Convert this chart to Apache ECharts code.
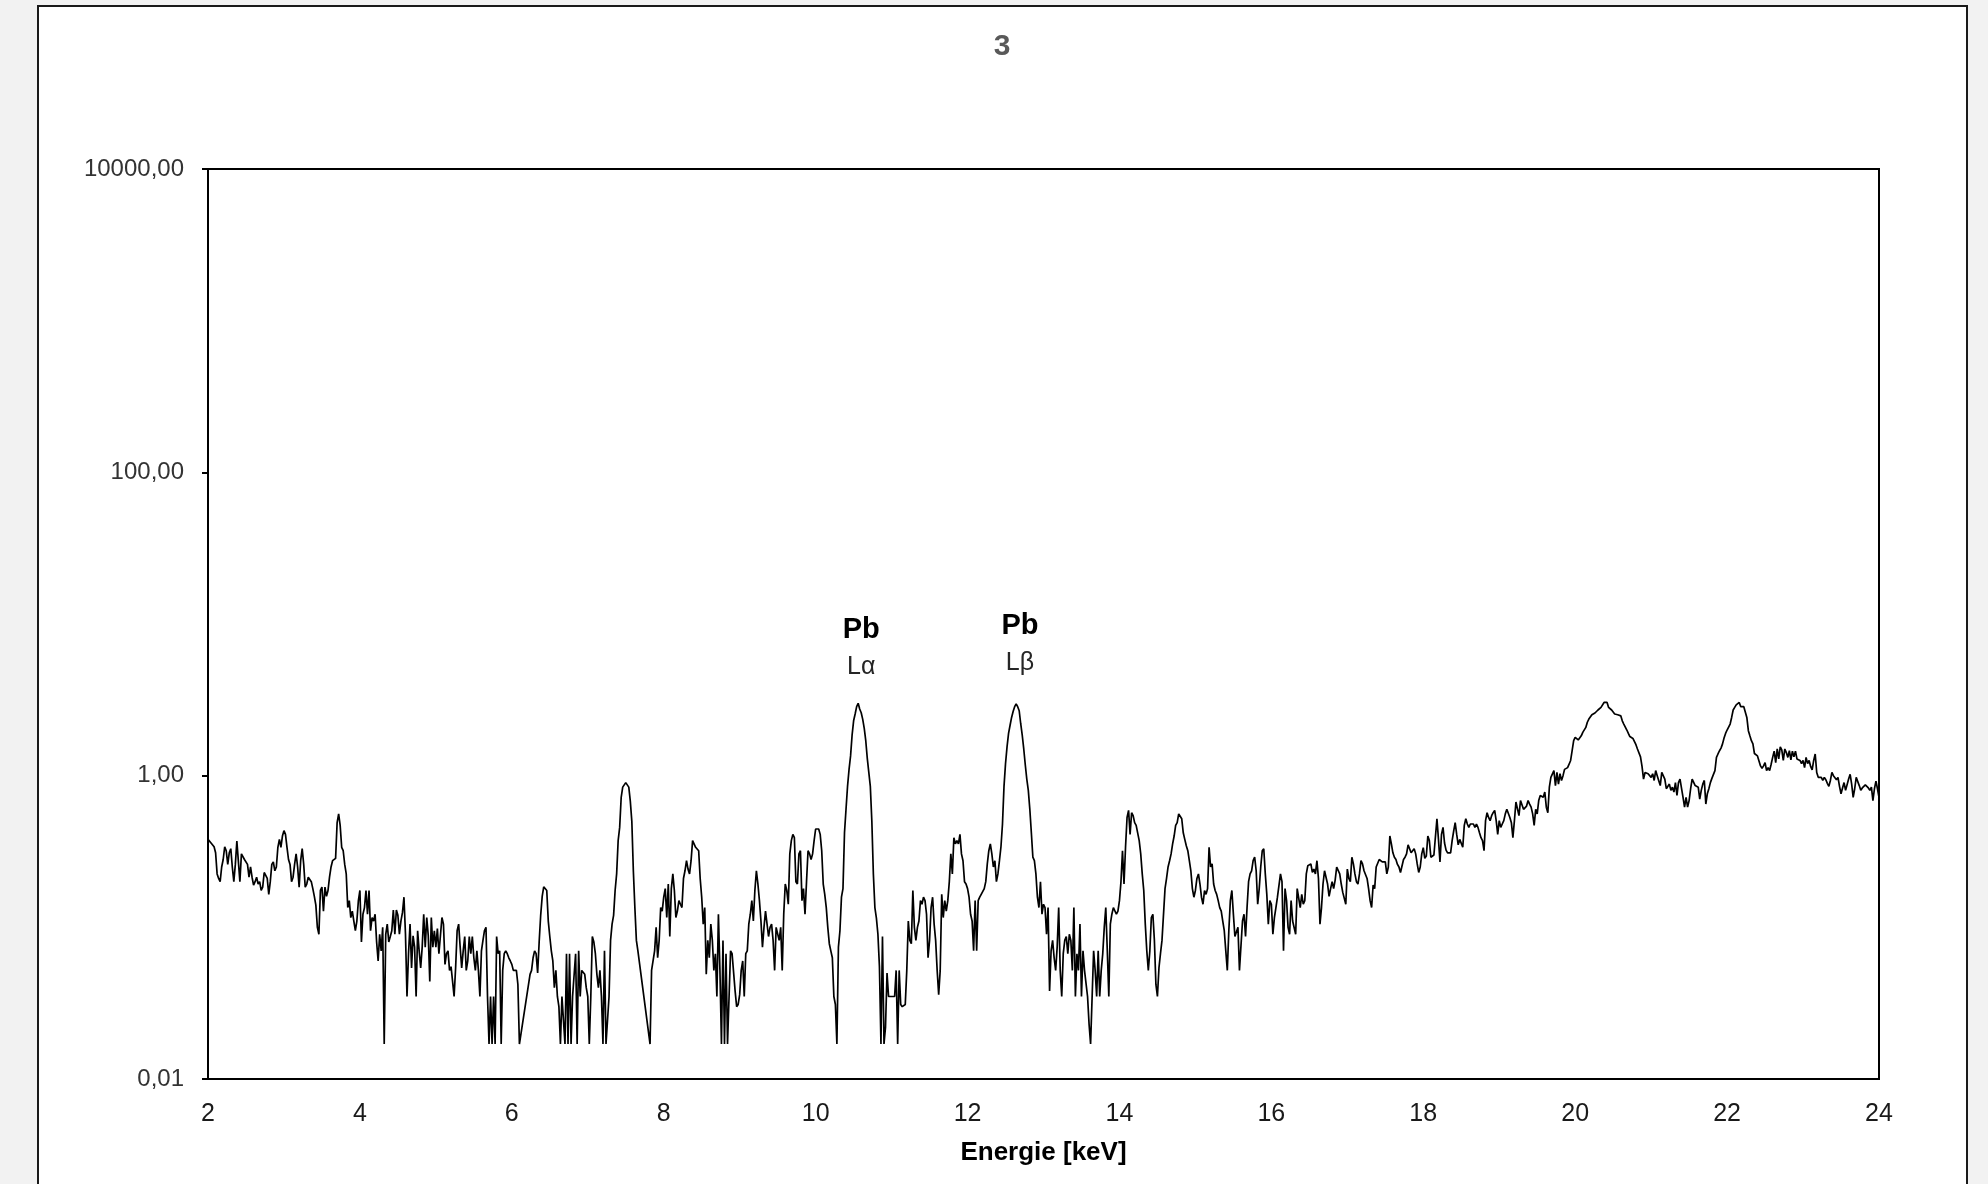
<!DOCTYPE html>
<html><head><meta charset="utf-8">
<script src="https://cdn.jsdelivr.net/npm/echarts@6.0.0/dist/echarts.min.js"></script>
<style>
html,body{margin:0;padding:0;background:#f2f2f2;width:1988px;height:1184px;overflow:hidden;}
#frame{position:absolute;left:37px;top:5px;width:1931px;height:1210px;border:2px solid #1a1a1a;background:#fff;box-sizing:border-box;}
#chart{position:absolute;left:0;top:0;width:1988px;height:1184px;}
</style></head><body><div id="frame"></div><div id="chart"></div>
<script>
// Spectrum channels: energy grid start and step (keV)
const energyStart = 2;
const energyStep = 0.02;
// Intensity per channel (null = empty channel, skipped on the log axis)
const intensity = [
0.38,0.37,0.36,0.35,0.34,0.31,0.225,0.21,0.2,0.25,0.28,0.34,0.32,0.26,0.31,0.33,0.25,0.2,0.26,0.37,0.37,0.2,0.305,0.31,0.28,
0.275,0.26,0.214,0.25,0.214,0.19,0.2,0.214,0.193,0.2,0.175,0.184,0.23,0.22,0.21,0.165,0.2,0.26,0.27,0.236,0.25,0.337,0.38,0.337,0.4,
0.434,0.41,0.337,0.28,0.26,0.2,0.214,0.26,0.305,0.25,0.184,0.275,0.33,0.26,0.184,0.193,0.214,0.22,0.2,0.18,0.16,0.14,0.1,0.09,0.175,
0.184,0.128,0.184,0.16,0.175,0.214,0.25,0.275,0.28,0.285,0.49,0.56,0.47,0.337,0.32,0.26,0.225,0.135,0.15,0.116,0.128,0.11,0.095,0.11,0.15,
0.175,0.08,0.122,0.135,0.175,0.122,0.175,0.095,0.116,0.11,0.122,0.08,0.06,0.09,0.07,0.1,0.017,0.09,0.105,0.08,0.087,0.095,0.13,0.09,0.13,
0.12,0.09,0.11,0.125,0.158,0.09,0.035,0.067,0.105,0.054,0.088,0.074,0.035,0.095,0.07,0.054,0.074,0.122,0.074,0.116,0.088,0.044,0.116,0.074,0.095,
0.074,0.098,0.067,0.088,0.116,0.105,0.057,0.067,0.07,0.052,0.055,0.044,0.035,0.054,0.095,0.105,0.074,0.054,0.07,0.087,0.052,0.06,0.087,0.067,0.087,
0.063,0.052,0.07,0.052,0.035,0.07,0.082,0.095,0.1,0.035,0.017,0.035,0.017,0.035,0.017,0.087,0.067,0.07,0.017,0.052,0.067,0.07,0.067,0.063,0.06,
0.057,0.052,0.052,0.052,0.042,0.017,null,null,null,null,null,null,0.049,0.052,0.063,0.07,0.067,0.05,0.08,0.12,0.16,0.185,0.19,0.175,0.11,
0.087,0.07,0.06,0.04,0.052,0.035,0.03,0.017,0.035,0.035,0.017,0.067,0.017,0.067,0.017,0.035,0.035,0.067,0.017,0.07,0.035,0.052,0.052,0.049,0.04,
0.035,0.017,0.035,0.087,0.08,0.067,0.049,0.04,0.052,0.035,0.017,0.07,0.017,0.017,0.035,0.082,0.105,0.12,0.175,0.225,0.373,0.456,0.72,0.84,0.86,
0.9,0.9,0.84,0.68,0.5,0.236,0.135,0.082,0.07,null,null,null,null,null,null,null,0.017,0.052,0.052,0.07,0.1,0.063,0.082,0.135,0.128,
0.158,0.18,0.116,0.193,0.087,0.18,0.225,0.175,0.116,0.128,0.15,0.142,0.135,0.21,0.236,0.275,0.242,0.225,0.275,0.373,0.38,0.337,0.345,0.32,0.21,
0.158,0.105,0.135,0.049,0.082,0.063,0.105,0.082,0.052,0.067,0.035,0.122,0.052,0.017,0.082,0.017,0.067,0.017,0.017,0.07,0.067,0.067,0.038,0.03,0.031,
0.036,0.052,0.06,0.035,0.067,0.07,0.105,0.122,0.15,0.11,0.175,0.236,0.193,0.15,0.11,0.074,0.1,0.128,0.128,0.087,0.1,0.105,0.082,0.052,0.1,
0.1,0.082,0.1,0.052,0.122,0.193,0.175,0.142,0.305,0.373,0.41,0.39,0.2,0.193,0.305,0.32,0.15,0.18,0.122,0.2,0.32,0.305,0.28,0.305,0.373,
0.445,0.45,0.445,0.41,0.32,0.193,0.165,0.135,0.1,0.078,0.07,0.063,0.035,0.031,0.017,0.074,0.095,0.158,0.18,0.42,0.6,0.85,1.1,1.35,1.85,
2.3,2.55,2.85,3.0,2.75,2.6,2.35,2.05,1.7,1.3,1.05,0.85,0.5,0.225,0.135,0.115,0.09,0.055,0.017,0.087,0.017,0.022,0.05,0.035,0.035,
0.035,0.035,0.035,0.052,0.017,0.052,0.031,0.03,0.03,0.031,0.052,0.11,0.082,0.078,0.175,0.1,0.082,0.1,0.11,0.15,0.142,0.158,0.15,0.122,0.063,
0.082,0.135,0.158,0.105,0.082,0.052,0.036,0.052,0.165,0.116,0.15,0.128,0.15,0.2,0.305,0.225,0.39,0.355,0.373,0.355,0.41,0.305,0.275,0.2,0.193,
0.18,0.158,0.122,0.11,0.07,0.15,0.07,0.15,0.158,0.165,0.17,0.18,0.2,0.262,0.32,0.355,0.305,0.25,0.275,0.2,0.225,0.275,0.34,0.48,0.85,
1.2,1.55,1.9,2.15,2.42,2.65,2.85,2.97,2.85,2.68,2.2,1.85,1.5,1.18,0.95,0.8,0.6,0.42,0.29,0.275,0.225,0.158,0.135,0.2,0.122,
0.142,0.135,0.09,0.135,0.038,0.07,0.082,0.063,0.052,0.074,0.135,0.052,0.035,0.067,0.082,0.087,0.067,0.09,0.082,0.052,0.135,0.035,0.067,0.052,0.105,
0.035,0.07,0.052,0.052,0.035,0.023,0.017,0.017,0.07,0.052,0.035,0.07,0.035,0.052,0.067,0.1,0.135,0.07,0.035,0.105,0.122,0.135,0.135,0.122,0.128,
0.15,0.2,0.32,0.193,0.337,0.53,0.59,0.41,0.57,0.545,0.49,0.47,0.456,0.373,0.305,0.225,0.175,0.105,0.07,0.052,0.07,0.116,0.122,0.082,0.042,
0.035,0.054,0.067,0.082,0.082,0.18,0.21,0.25,0.275,0.305,0.355,0.4,0.47,0.49,0.56,0.57,0.52,0.42,0.38,0.345,0.32,0.275,0.236,0.18,0.158,
0.175,0.21,0.225,0.193,0.158,0.142,0.175,0.165,0.18,0.337,0.25,0.262,0.193,0.175,0.165,0.15,0.135,0.128,0.11,0.095,0.07,0.052,0.095,0.15,0.175,
0.122,0.087,0.087,0.1,0.052,0.052,0.11,0.122,0.087,0.135,0.2,0.225,0.236,0.275,0.29,0.236,0.142,0.18,0.25,0.32,0.33,0.225,0.165,0.105,0.15,
0.142,0.09,0.116,0.135,0.158,0.158,0.225,0.2,0.07,0.18,0.15,0.1,0.09,0.15,0.11,0.11,0.09,0.18,0.18,0.135,0.165,0.142,0.15,0.225,0.255,
0.262,0.262,0.23,0.242,0.225,0.275,0.21,0.105,0.135,0.193,0.236,0.236,0.193,0.16,0.18,0.2,0.18,0.205,0.25,0.255,0.225,0.193,0.17,0.165,0.142,
0.242,0.21,0.2,0.29,0.262,0.225,0.2,0.193,0.225,0.275,0.262,0.236,0.236,0.21,0.18,0.15,0.135,0.19,0.18,0.25,0.25,0.28,0.28,0.27,0.275,
0.27,0.225,0.25,0.4,0.355,0.31,0.29,0.28,0.26,0.25,0.23,0.23,0.28,0.29,0.305,0.35,0.33,0.31,0.315,0.33,0.305,0.262,0.23,0.25,0.305,
0.335,0.285,0.295,0.4,0.373,0.29,0.29,0.3,0.305,0.52,0.38,0.27,0.41,0.456,0.36,0.323,0.31,0.315,0.31,0.373,0.43,0.49,0.41,0.35,0.38,
0.373,0.337,0.47,0.52,0.48,0.456,0.48,0.48,0.48,0.456,0.48,0.456,0.42,0.39,0.373,0.32,0.505,0.57,0.53,0.505,0.545,0.57,0.59,0.505,0.41,
0.505,0.456,0.48,0.505,0.56,0.6,0.59,0.53,0.49,0.39,0.505,0.67,0.65,0.545,0.685,0.67,0.6,0.6,0.63,0.685,0.65,0.62,0.56,0.47,0.6,
0.56,0.685,0.74,0.76,0.72,0.78,0.62,0.57,0.84,0.975,0.95,1.08,0.86,1.05,0.88,1.03,0.93,1.0,1.1,1.13,1.13,1.19,1.26,1.46,1.7,
1.79,1.75,1.72,1.77,1.83,1.93,1.98,2.08,2.25,2.36,2.3,2.52,2.48,2.59,2.65,2.71,2.78,2.82,2.89,3.04,2.97,3.04,2.82,2.82,2.71,
2.65,2.55,2.5,2.52,2.48,2.48,2.3,2.19,2.14,2.0,1.9,1.81,1.79,1.76,1.72,1.6,1.5,1.46,1.33,1.15,0.95,1.05,1.04,1.03,1.05,
0.975,1.03,0.93,1.08,1.0,1.03,0.86,1.05,1.04,0.95,0.82,0.8,0.88,0.8,0.84,0.78,0.9,0.74,0.9,0.95,0.93,0.72,0.62,0.72,0.62,
0.685,0.82,0.95,0.975,0.86,0.86,0.84,0.7,0.8,0.88,0.93,0.65,0.76,0.82,0.9,0.96,0.95,1.08,1.32,1.39,1.46,1.52,1.62,1.77,1.9,
2.0,2.06,2.19,2.42,2.71,2.82,2.93,2.85,3.04,2.85,2.92,2.85,2.8,2.42,1.98,1.83,1.7,1.62,1.4,1.39,1.35,1.32,1.16,1.12,1.16,
1.22,1.08,1.13,1.08,1.19,1.32,1.45,1.22,1.5,1.29,1.55,1.48,1.26,1.5,1.42,1.32,1.46,1.27,1.45,1.33,1.45,1.29,1.27,1.26,1.2,
1.26,1.13,1.32,1.2,1.26,1.15,1.09,1.26,1.39,1.05,0.975,1.0,0.975,0.93,0.975,0.94,0.89,0.85,0.93,1.05,1.0,0.975,0.94,0.975,0.85,
0.76,0.83,0.9,0.8,0.8,0.95,1.02,0.88,0.72,0.82,0.975,1.0,0.86,0.8,0.83,0.85,0.87,0.87,0.83,0.8,0.84,0.685,0.82,0.92,0.82,
0.72
];
// Axis ranges
const xMin = 2, xMax = 24, xInterval = 2;
const yMin = 0.01, yMax = 10000;
// Peak annotations
const annotElement = ['Pb', 'Pb'];
const annotLine = ['L\u03b1', 'L\u03b2'];
const annotEnergy = [10.6, 12.69];
const annotLevel = [6.9, 7.3];
const chartTitle = '3';
const xName = 'Energie [keV]';

const seriesData = intensity.map((v, i) => [+(energyStart + i * energyStep).toFixed(2), v]);
const FONT = 'Liberation Sans, Arial, sans-serif';

const chart = echarts.init(document.getElementById('chart'), null, {renderer: 'canvas'});
chart.setOption({
  animation: false,
  backgroundColor: 'transparent',
  graphic: [{
    type: 'text', x: 1002, y: 47,
    style: {text: chartTitle, fontFamily: FONT, fontSize: 30, fontWeight: 'bold', fill: '#595959',
            align: 'center', verticalAlign: 'middle'}
  }],
  grid: {left: 208, top: 169, width: 1671, height: 910, show: true,
         borderColor: '#000', borderWidth: 2, backgroundColor: '#fff'},
  xAxis: {
    type: 'value', min: xMin, max: xMax, interval: xInterval,
    axisLine: {show: true, onZero: false, lineStyle: {color: '#000', width: 2}},
    axisTick: {show: false}, splitLine: {show: false},
    axisLabel: {fontFamily: FONT, fontSize: 25, color: '#1a1a1a', margin: 23},
    name: xName, nameLocation: 'middle', nameGap: 61,
    nameTextStyle: {fontFamily: FONT, fontSize: 26, fontWeight: 'bold', color: '#000'}
  },
  yAxis: {
    type: 'log', logBase: 10, min: yMin, max: yMax, interval: 2,
    axisLine: {show: true, lineStyle: {color: '#000', width: 2}},
    axisTick: {show: true, inside: false, length: 6, lineStyle: {color: '#000', width: 2}},
    minorTick: {show: false}, splitLine: {show: false},
    axisLabel: {fontFamily: FONT, fontSize: 24, color: '#333', margin: 24,
      formatter: v => Number(v).toFixed(2).replace('.', ',')}
  },
  series: [{
    type: 'line', data: seriesData, symbol: 'none', showSymbol: false,
    connectNulls: true, silent: true,
    lineStyle: {color: '#000', width: 1.7},
    markPoint: {
      symbol: 'circle', symbolSize: 0, silent: true,
      label: {show: true, position: 'inside',
        rich: {
          b: {fontFamily: FONT, fontSize: 29, fontWeight: 'bold', color: '#000', lineHeight: 37, align: 'center'},
          n: {fontFamily: FONT, fontSize: 25, color: '#262626', lineHeight: 37, align: 'center'}
        }},
      data: annotElement.map((el, k) => ({
        coord: [annotEnergy[k], annotLevel[k]],
        label: {formatter: '{b|' + el + '}\n{n|' + annotLine[k] + '}'}
      }))
    }
  }]
});
</script></body></html>
